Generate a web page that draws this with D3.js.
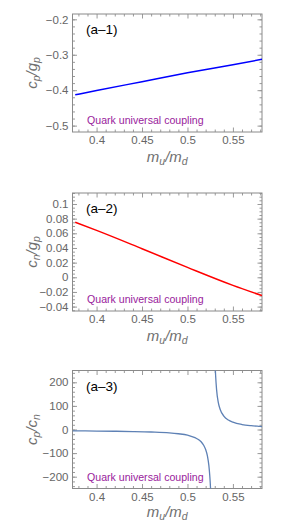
<!DOCTYPE html>
<html>
<head>
<meta charset="utf-8">
<script src="https://cdn.jsdelivr.net/npm/d3@7"></script>
<style>
  body { margin: 0; background: #fff; }
  svg { display: block; font-family: "Liberation Sans", Arial, sans-serif; }
</style>
</head>
<body>
<svg id="chart" width="291" height="523"></svg>
<script>
// values
const xTicks = [0.4, 0.45, 0.5, 0.55];
const xMinor = [0.38, 0.39, 0.41, 0.42, 0.43, 0.44, 0.46, 0.47, 0.48, 0.49, 0.51, 0.52, 0.53, 0.54, 0.56, 0.57, 0.58];

// (a-1) c_p/g_p
const cpX = [0.3765, 0.40, 0.45, 0.50, 0.55, 0.582];
const cpY = [-0.413, -0.401, -0.376, -0.351, -0.328, -0.313];
const cpTicks = [-0.5, -0.4, -0.3, -0.2];
const cpMinor = [-0.5, -0.48, -0.46, -0.44, -0.42, -0.4, -0.38, -0.36, -0.34, -0.32, -0.3, -0.28, -0.26, -0.24, -0.22, -0.2];

// (a-2) c_n/g_p
const cnX = [0.3765, 0.40, 0.45, 0.50, 0.55, 0.582];
const cnY = [0.075, 0.064, 0.039, 0.0135, -0.011, -0.025];
const cnTicks = [-0.04, -0.02, 0, 0.02, 0.04, 0.06, 0.08, 0.1];
const cnMinor = d3.range(-0.045, 0.1151, 0.005).map(v => +v.toFixed(3));

// (a-3) c_p/c_n, two branches around the pole
const ratioLeftX = [0.3735, 0.40, 0.42, 0.44, 0.46, 0.48, 0.49, 0.50, 0.505, 0.51, 0.515, 0.518, 0.52, 0.522, 0.5235, 0.5245, 0.5255, 0.526];
const ratioLeftY = [-5.5, -6.5, -7.4, -8.6, -10.5, -14, -18, -24, -30, -38, -52, -68, -85, -113, -151, -194, -260, -320];
const ratioRightX = [0.5295, 0.5302, 0.531, 0.532, 0.534, 0.536, 0.54, 0.545, 0.55, 0.56, 0.57, 0.58, 0.582];
const ratioRightY = [400, 300, 227, 170, 113, 85, 57, 40, 31, 21, 16, 13, 12.4];
const ratioTicks = [-200, -100, 0, 100, 200];
const ratioMinor = d3.range(-240, 241, 20);

const svg = d3.select("#chart");
const left = 72.5, right = 262;
const x = d3.scaleLinear().domain([0.3735, 0.582]).range([left, right]);

function fmt(v) {
    let s = String(+v.toFixed(3));
    return v < 0 ? "\u2212" + s.slice(1) : s;
}

// subscripted italic title like c_p/g_p
function title(sel, a, sa, b, sb) {
    sel.append("tspan").text(a);
    sel.append("tspan").attr("dy", 3).attr("font-size", 10.5).text(sa);
    sel.append("tspan").attr("dy", -3).text("/" + b);
    sel.append("tspan").attr("dy", 3).attr("font-size", 10.5).text(sb);
}

function drawPanel(p) {
    const top = p.top, bottom = p.top + 118;
    const y = d3.scaleLinear().domain(p.yDomain).range([bottom, top]);
    const g = svg.append("g");
    const clipId = "clip" + p.id;

    g.append("clipPath").attr("id", clipId)
        .append("rect")
        .attr("x", left).attr("y", top)
        .attr("width", right - left).attr("height", bottom - top);

    // frame ticks on all four sides, pointing inward
    const axes = [
        [d3.axisBottom(x).tickValues(xTicks).tickFormat(fmt), `translate(0,${bottom})`, -4.5],
        [d3.axisBottom(x).tickValues(xMinor).tickFormat(""), `translate(0,${bottom})`, -2.5],
        [d3.axisTop(x).tickValues(xTicks).tickFormat(""), `translate(0,${top})`, -4.5],
        [d3.axisTop(x).tickValues(xMinor).tickFormat(""), `translate(0,${top})`, -2.5],
        [d3.axisLeft(y).tickValues(p.ticks).tickFormat(fmt), `translate(${left},0)`, -4.5],
        [d3.axisLeft(y).tickValues(p.minor).tickFormat(""), `translate(${left},0)`, -2.5],
        [d3.axisRight(y).tickValues(p.ticks).tickFormat(""), `translate(${right},0)`, -4.5],
        [d3.axisRight(y).tickValues(p.minor).tickFormat(""), `translate(${right},0)`, -2.5]
    ];
    axes.forEach(([ax, tr, size]) => {
        const a = g.append("g")
            .attr("transform", tr)
            .call(ax.tickSizeInner(size).tickSizeOuter(0).tickPadding(4));
        a.select(".domain").remove();
        a.selectAll("line").attr("stroke", "#9a9a9a");
        a.selectAll("text")
            .attr("fill", "#666")
            .style("font-size", "11.5px")
            .style("font-family", "'Liberation Sans', Arial, sans-serif");
    });

    g.append("rect")
        .attr("x", left).attr("y", top)
        .attr("width", right - left).attr("height", bottom - top)
        .attr("fill", "none")
        .attr("stroke", "#8a8a8a")
        .attr("stroke-width", 1);

    const line = d3.line()
        .x(d => x(d[0]))
        .y(d => y(d[1]))
        .curve(d3.curveMonotoneX);

    p.series.forEach(s => {
        g.append("path")
            .datum(d3.zip(s[0], s[1]))
            .attr("clip-path", `url(#${clipId})`)
            .attr("fill", "none")
            .attr("stroke", p.color)
            .attr("stroke-width", p.width)
            .attr("d", line);
    });

    g.append("text")
        .attr("x", 86).attr("y", top + 20)
        .attr("font-size", 13.5)
        .attr("fill", "#000")
        .text(p.label);

    g.append("text")
        .attr("x", 87).attr("y", bottom - 8)
        .attr("font-size", 10.6)
        .attr("fill", "#99229c")
        .text("Quark universal coupling");

    const yt = g.append("text")
        .attr("transform", `translate(37,${(top + bottom) / 2}) rotate(-90)`)
        .attr("text-anchor", "middle")
        .attr("font-size", 15)
        .attr("font-style", "italic")
        .attr("fill", "#707070");
    title(yt, p.yt[0], p.yt[1], p.yt[2], p.yt[3]);

    const xt = g.append("text")
        .attr("x", (left + right) / 2).attr("y", bottom + p.xtGap)
        .attr("text-anchor", "middle")
        .attr("font-size", 15)
        .attr("font-style", "italic")
        .attr("fill", "#707070");
    title(xt, "m", "u", "m", "d");
}

drawPanel({ id: 1, top: 14, yDomain: [-0.518, -0.185], ticks: cpTicks, minor: cpMinor, xtGap: 30,
    series: [[cpX, cpY]], color: "#0000ff", width: 1.5, label: "(a\u20131)", yt: ["c", "p", "g", "p"] });
drawPanel({ id: 2, top: 193, yDomain: [-0.046, 0.115], ticks: cnTicks, minor: cnMinor, xtGap: 30,
    series: [[cnX, cnY]], color: "#ff0000", width: 1.5, label: "(a\u20132)", yt: ["c", "n", "g", "p"] });
drawPanel({ id: 3, top: 370.5, yDomain: [-250, 250], ticks: ratioTicks, minor: ratioMinor, xtGap: 28,
    series: [[ratioLeftX, ratioLeftY], [ratioRightX, ratioRightY]], color: "#5e81b5", width: 1.3,
    label: "(a\u20133)", yt: ["c", "p", "c", "n"] });
</script>
</body>
</html>
